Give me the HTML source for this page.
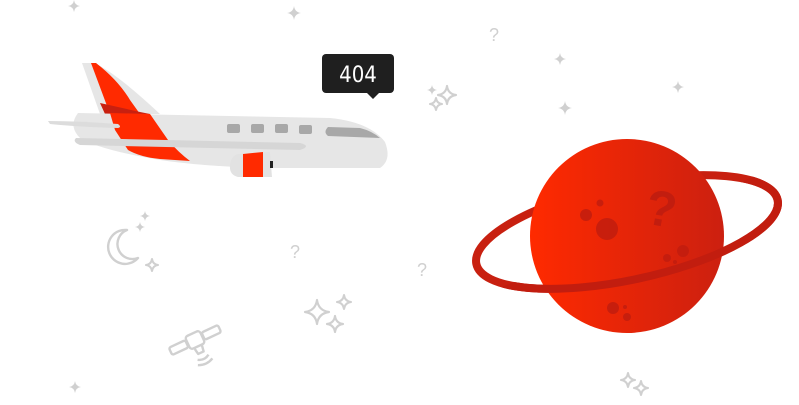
<!DOCTYPE html>
<html><head><meta charset="utf-8"><style>
html,body{margin:0;padding:0;background:#fff;width:799px;height:405px;overflow:hidden}
svg{display:block}
</style></head><body>
<svg width="799" height="405" viewBox="0 0 799 405" xmlns="http://www.w3.org/2000/svg">
<defs>
<linearGradient id="pg" x1="0" y1="0" x2="1" y2="0">
<stop offset="0" stop-color="#ff2a00"/><stop offset="1" stop-color="#cc2010"/>
</linearGradient>
<path id="sf" d="M0,-1 Q0.12,-0.12 1,0 Q0.12,0.12 0,1 Q-0.12,0.12 -1,0 Q-0.12,-0.12 0,-1Z"/>
<clipPath id="front"><polygon points="440,271 810,194 810,405 440,405"/></clipPath>
</defs>
<g fill="#d0d0d0">
<use href="#sf" transform="translate(74,6) scale(6)"/>
<use href="#sf" transform="translate(294,13) scale(7)"/>
<use href="#sf" transform="translate(560,59) scale(6)"/>
<use href="#sf" transform="translate(565,108) scale(7)"/>
<use href="#sf" transform="translate(678,87) scale(6)"/>
<use href="#sf" transform="translate(75,387) scale(6)"/>
<use href="#sf" transform="translate(432,90) scale(5)"/>
<use href="#sf" transform="translate(145,216) scale(5)"/>
<use href="#sf" transform="translate(140,227) scale(5)"/>
</g>
<g fill="none" stroke="#d0d0d0" stroke-width="2.2" stroke-linejoin="round">
<use href="#sf" transform="translate(447,95) scale(9)" stroke-width="0.24"/>
<use href="#sf" transform="translate(436,104) scale(6)" stroke-width="0.35"/>
<use href="#sf" transform="translate(152,265) scale(6)" stroke-width="0.35"/>
<use href="#sf" transform="translate(317,312) scale(12)" stroke-width="0.18"/>
<use href="#sf" transform="translate(344,302) scale(7)" stroke-width="0.3"/>
<use href="#sf" transform="translate(335,324) scale(8)" stroke-width="0.27"/>
<use href="#sf" transform="translate(628,380) scale(7)" stroke-width="0.3"/>
<use href="#sf" transform="translate(641,388) scale(7)" stroke-width="0.3"/>
<path d="M127,230 A17,17 0 1 0 138,258 A14,14 0 0 1 127,230Z" stroke-width="2.4"/>
<g transform="translate(195,340) rotate(-25)" stroke-width="2.4">
<rect x="-27" y="-4" width="18" height="8" rx="2"/>
<rect x="9" y="-4" width="18" height="8" rx="2"/>
<rect x="-8" y="-7" width="16" height="14" rx="3"/>
<path d="M-4,8 L-3,14 L3,14 L4,8"/>
<path d="M-6,19 Q0,23 6,19"/>
<path d="M-8,24 Q0,28 8,24"/>
</g>
</g>
<g fill="#d0d0d0" font-family="Liberation Sans, sans-serif" font-size="18">
<text x="489" y="41">?</text>
<text x="290" y="258">?</text>
<text x="417" y="276">?</text>
</g>
<rect x="322" y="54" width="72" height="39" rx="4" fill="#1f1f1f"/>
<path d="M367,93 L373,99 L379,93Z" fill="#1f1f1f"/>
<text x="358" y="82" fill="#fff" font-family="DejaVu Sans Condensed, Liberation Sans, sans-serif" font-size="22" text-anchor="middle">404</text>
<!-- plane -->
<path d="M82,63 L94,63 Q115,72 160,114 L100,114 Z" fill="#e6e6e6"/>
<path d="M91,63 L96,63 Q118,80 130,100 L140,114 L110,114 Z" fill="#ff2a00"/>
<path d="M100,103 L140,112 L150,114 L105,114Z" fill="#c82010"/>
<path d="M78,113 L330,118 Q370,122 385,142 Q392,160 380,168 L260,168 Q200,166 160,160 Q100,150 80,138 Q68,126 78,113Z" fill="#e6e6e6"/>
<path d="M110,113 L150,114 L168,140 Q178,152 190,161 L160,159 Q140,157 128,150 L115,130Z" fill="#ff2a00"/>
<path d="M48,121 Q80,121 118,124 Q122,127 118,128 Q80,127 50,124Z" fill="#dcdcdc"/>
<path d="M76,138 L300,143 Q312,146 300,150 L80,145 Q72,142 76,138Z" fill="#d6d6d6"/>
<g fill="#a8a8a8">
<rect x="227" y="124" width="13" height="9" rx="2"/>
<rect x="251" y="124" width="13" height="9" rx="2"/>
<rect x="275" y="124" width="13" height="9" rx="2"/>
<rect x="299" y="125" width="13" height="9" rx="2"/>
<path d="M328,127 L360,128 Q372,131 380,138 L328,136 Q323,132 328,127Z"/>
</g>
<path d="M238,154 L270,152 L272,177 L238,177 Q229,175 230,165 Q231,156 238,154Z" fill="#e2e2e2"/>
<path d="M243,154 L263,152 L263,177 L243,177Z" fill="#ff2a00"/>
<rect x="270" y="161" width="3" height="7" fill="#222"/>
<!-- ring back -->
<ellipse cx="627" cy="232" rx="154" ry="48" transform="rotate(-12 627 232)" fill="none" stroke="#c82010" stroke-width="8"/>
<circle cx="627" cy="236" r="97" fill="url(#pg)"/>
<ellipse cx="627" cy="232" rx="154" ry="48" transform="rotate(-12 627 232)" fill="none" stroke="#c21d0f" stroke-width="8" clip-path="url(#front)"/>
<g fill="#c21d0f" opacity="0.85">
<circle cx="607" cy="229" r="11"/>
<circle cx="586" cy="215" r="6"/>
<circle cx="600" cy="203" r="3.5"/>
<circle cx="683" cy="251" r="6"/>
<circle cx="667" cy="258" r="4"/>
<circle cx="675" cy="262" r="2"/>
<circle cx="613" cy="308" r="6"/>
<circle cx="625" cy="307" r="2"/>
<circle cx="627" cy="317" r="4"/>
</g>
<text x="662" y="226" fill="#c21d0f" font-family="Liberation Sans, sans-serif" font-weight="bold" font-size="50" text-anchor="middle" transform="rotate(10 662 205)">?</text>
</svg>
</body></html>
